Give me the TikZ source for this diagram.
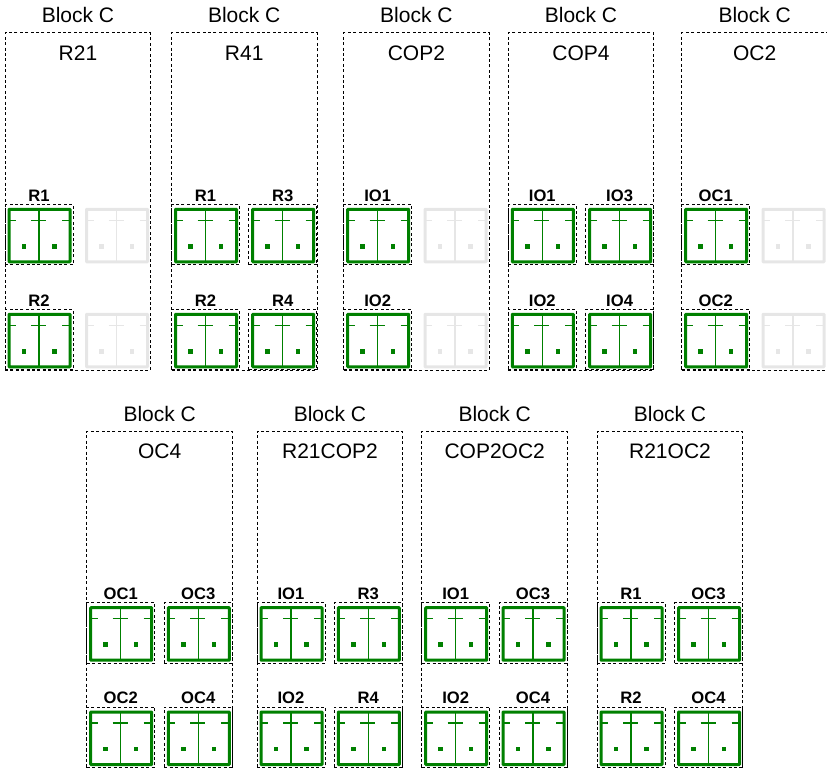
\documentclass[tikz,border=0pt]{standalone}
\usepackage{fontspec}
\setmainfont{Liberation Sans}

\definecolor{tilegreen}{RGB}{0,128,0}
\definecolor{tilegray}{RGB}{230,230,230}

\tikzset{
	blockbox/.style={draw, line width=1pt, dash pattern=on 3pt off 2.4pt, minimum width=145.5pt, minimum height=337pt, inner sep=0pt, outer sep=0pt, anchor=north west},
	tilebox/.style={draw, line width=1pt, dash pattern=on 3pt off 2.4pt, minimum width=68pt, minimum height=60.5pt, inner sep=0pt, outer sep=0pt, anchor=north west},
	blocktext/.style={font=\fontsize{21}{24}\selectfont, anchor=base, inner sep=0pt},
	tiletext/.style={font=\fontsize{16.6}{20}\bfseries\selectfont, anchor=base, inner sep=0pt},
	dot/.style={minimum size=4.5pt, inner sep=0pt, fill=#1}
}

% one switch: frame, middle line, ticks, two dots
\newcommand{\switch}[3]{
	\begin{scope}[shift={(#1,#2)}]
		\draw[draw=#3, line width=1.5pt] (34,5) -- (34,57.5);
		\draw[draw=#3, line width=1.5pt] (4,16) -- (11,16);
		\draw[draw=#3, line width=1.5pt] (26,16) -- (41,16);
		\draw[draw=#3, line width=1.5pt] (57,16) -- (65,16);
		\node[draw=#3, line width=3pt, rounded corners=0.5pt, minimum width=61pt, minimum height=52.5pt, inner sep=0pt, outer sep=0pt, anchor=north west] (sw#1x#2) at (4,5) {};
		\node[dot=#3] (dl#1x#2) at (19,42) {};
		\node[dot=#3] (dr#1x#2) at (49.5,42) {};
	\end{scope}
}
% dashed cell with a label above it
\newcommand{\tile}[3]{
	\node[tilebox] (box#1x#2) at (#1,#2) {};
	\node[tiletext] (lab#1x#2) at ($(#1,#2)+(34,-3.2)$) {#3};
	\switch{#1}{#2}{tilegreen}
}
\newcommand{\block}[4]{
	\node[blockbox] (blk#1) at (#1,#2) {};
	\node[blocktext] (hd#1) at ($(#1,#2)+(#3,-10.5)$) {Block C};
	\node[blocktext] (nm#1) at ($(#1,#2)+(#3,27)$) {#4};
}

\usetikzlibrary{calc}

\begin{document}
\begin{tikzpicture}[x=1pt, y=-1pt]
	\useasboundingbox (0,0) rectangle (827,768);

	% top row
	\block{5}{33}{73}{R21}
	\tile{5}{204.3}{R1}
	\tile{5}{309.3}{R2}
	\switch{82.5}{204.3}{tilegray}
	\switch{82.5}{309.3}{tilegray}

	\block{171.5}{33}{72.7}{R41}
	\tile{171.5}{204.3}{R1}
	\tile{171.5}{309.3}{R2}
	\tile{248.7}{204.3}{R3}
	\tile{248.7}{309.3}{R4}

	\block{343.7}{33}{72.7}{COP2}
	\tile{343.7}{204.3}{IO1}
	\tile{343.7}{309.3}{IO2}
	\switch{421}{204.3}{tilegray}
	\switch{421}{309.3}{tilegray}

	\block{508.3}{33}{72.7}{COP4}
	\tile{508.3}{204.3}{IO1}
	\tile{508.3}{309.3}{IO2}
	\tile{585.6}{204.3}{IO3}
	\tile{585.6}{309.3}{IO4}

	\block{681.7}{33}{73}{OC2}
	\tile{681.7}{204.3}{OC1}
	\tile{681.7}{309.3}{OC2}
	\switch{759}{204.3}{tilegray}
	\switch{759}{309.3}{tilegray}

	% bottom row
	\block{86.7}{431.5}{73}{OC4}
	\tile{86.7}{602.7}{OC1}
	\tile{86.7}{707}{OC2}
	\tile{164.3}{602.7}{OC3}
	\tile{164.3}{707}{OC4}

	\block{257}{431.5}{73}{R21COP2}
	\tile{257}{602.7}{IO1}
	\tile{257}{707}{IO2}
	\tile{334.3}{602.7}{R3}
	\tile{334.3}{707}{R4}

	\block{421.7}{431.5}{73}{COP2OC2}
	\tile{421.7}{602.7}{IO1}
	\tile{421.7}{707}{IO2}
	\tile{499}{602.7}{OC3}
	\tile{499}{707}{OC4}

	\block{597}{431.5}{73}{R21OC2}
	\tile{597}{602.7}{R1}
	\tile{597}{707}{R2}
	\tile{674.5}{602.7}{OC3}
	\tile{674.5}{707}{OC4}
\end{tikzpicture}
\end{document}
